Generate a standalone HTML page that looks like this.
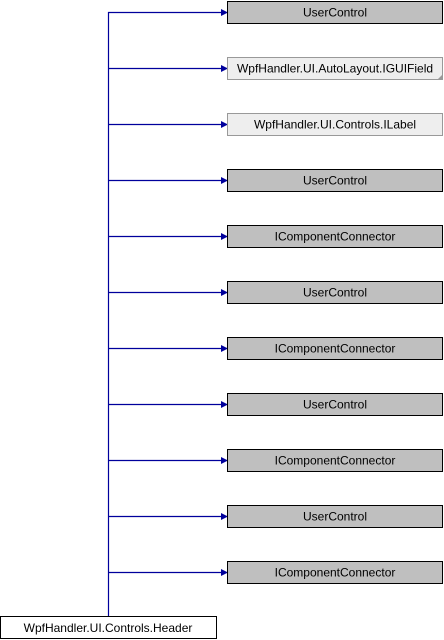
<!DOCTYPE html>
<html><head><style>body{margin:0;background:#fff}svg{display:block}text{font-family:"Liberation Sans",sans-serif;font-size:12px;text-anchor:middle}</style></head><body>
<svg width="444" height="640" viewBox="0 0 444 640">
<line x1="108.5" y1="12" x2="108.5" y2="616" stroke="#00009c" stroke-width="1.2"/>
<g stroke="#00009c" stroke-width="1.2">
<line x1="108" y1="12.5" x2="222" y2="12.5"/>
<line x1="108" y1="68.5" x2="222" y2="68.5"/>
<line x1="108" y1="124.5" x2="222" y2="124.5"/>
<line x1="108" y1="180.5" x2="222" y2="180.5"/>
<line x1="108" y1="236.5" x2="222" y2="236.5"/>
<line x1="108" y1="292.5" x2="222" y2="292.5"/>
<line x1="108" y1="348.5" x2="222" y2="348.5"/>
<line x1="108" y1="404.5" x2="222" y2="404.5"/>
<line x1="108" y1="460.5" x2="222" y2="460.5"/>
<line x1="108" y1="516.5" x2="222" y2="516.5"/>
<line x1="108" y1="572.5" x2="222" y2="572.5"/>
</g>
<g fill="#00009c">
<polygon points="221,9 228,12.5 221,16"/>
<polygon points="221,65 228,68.5 221,72"/>
<polygon points="221,121 228,124.5 221,128"/>
<polygon points="221,177 228,180.5 221,184"/>
<polygon points="221,233 228,236.5 221,240"/>
<polygon points="221,289 228,292.5 221,296"/>
<polygon points="221,345 228,348.5 221,352"/>
<polygon points="221,401 228,404.5 221,408"/>
<polygon points="221,457 228,460.5 221,464"/>
<polygon points="221,513 228,516.5 221,520"/>
<polygon points="221,569 228,572.5 221,576"/>
</g>
<g fill="#bfbfbf" stroke="#000">
<rect x="227.5" y="1.5" width="215" height="22"/>
<rect x="227.5" y="169.5" width="215" height="22"/>
<rect x="227.5" y="225.5" width="215" height="22"/>
<rect x="227.5" y="281.5" width="215" height="22"/>
<rect x="227.5" y="337.5" width="215" height="22"/>
<rect x="227.5" y="393.5" width="215" height="22"/>
<rect x="227.5" y="449.5" width="215" height="22"/>
<rect x="227.5" y="505.5" width="215" height="22"/>
<rect x="227.5" y="561.5" width="215" height="22"/>
</g>
<g fill="#eeeeee" stroke="#999">
<rect x="227.5" y="57.5" width="215" height="22"/>
<rect x="227.5" y="113.5" width="215" height="22"/>
</g>
<polygon points="442,75 442,79 438,79" fill="#999"/>
<text x="335" y="16.5">UserControl</text>
<text x="335" y="72.5">WpfHandler.UI.AutoLayout.IGUIField</text>
<text x="335" y="128.5">WpfHandler.UI.Controls.ILabel</text>
<text x="335" y="184.5">UserControl</text>
<text x="335" y="240.5">IComponentConnector</text>
<text x="335" y="296.5">UserControl</text>
<text x="335" y="352.5">IComponentConnector</text>
<text x="335" y="408.5">UserControl</text>
<text x="335" y="464.5">IComponentConnector</text>
<text x="335" y="520.5">UserControl</text>
<text x="335" y="576.5">IComponentConnector</text>
<rect x="0.5" y="616.5" width="216" height="22" fill="#fff" stroke="#000"/>
<text x="108" y="632">WpfHandler.UI.Controls.Header</text>
</svg>
</body></html>
